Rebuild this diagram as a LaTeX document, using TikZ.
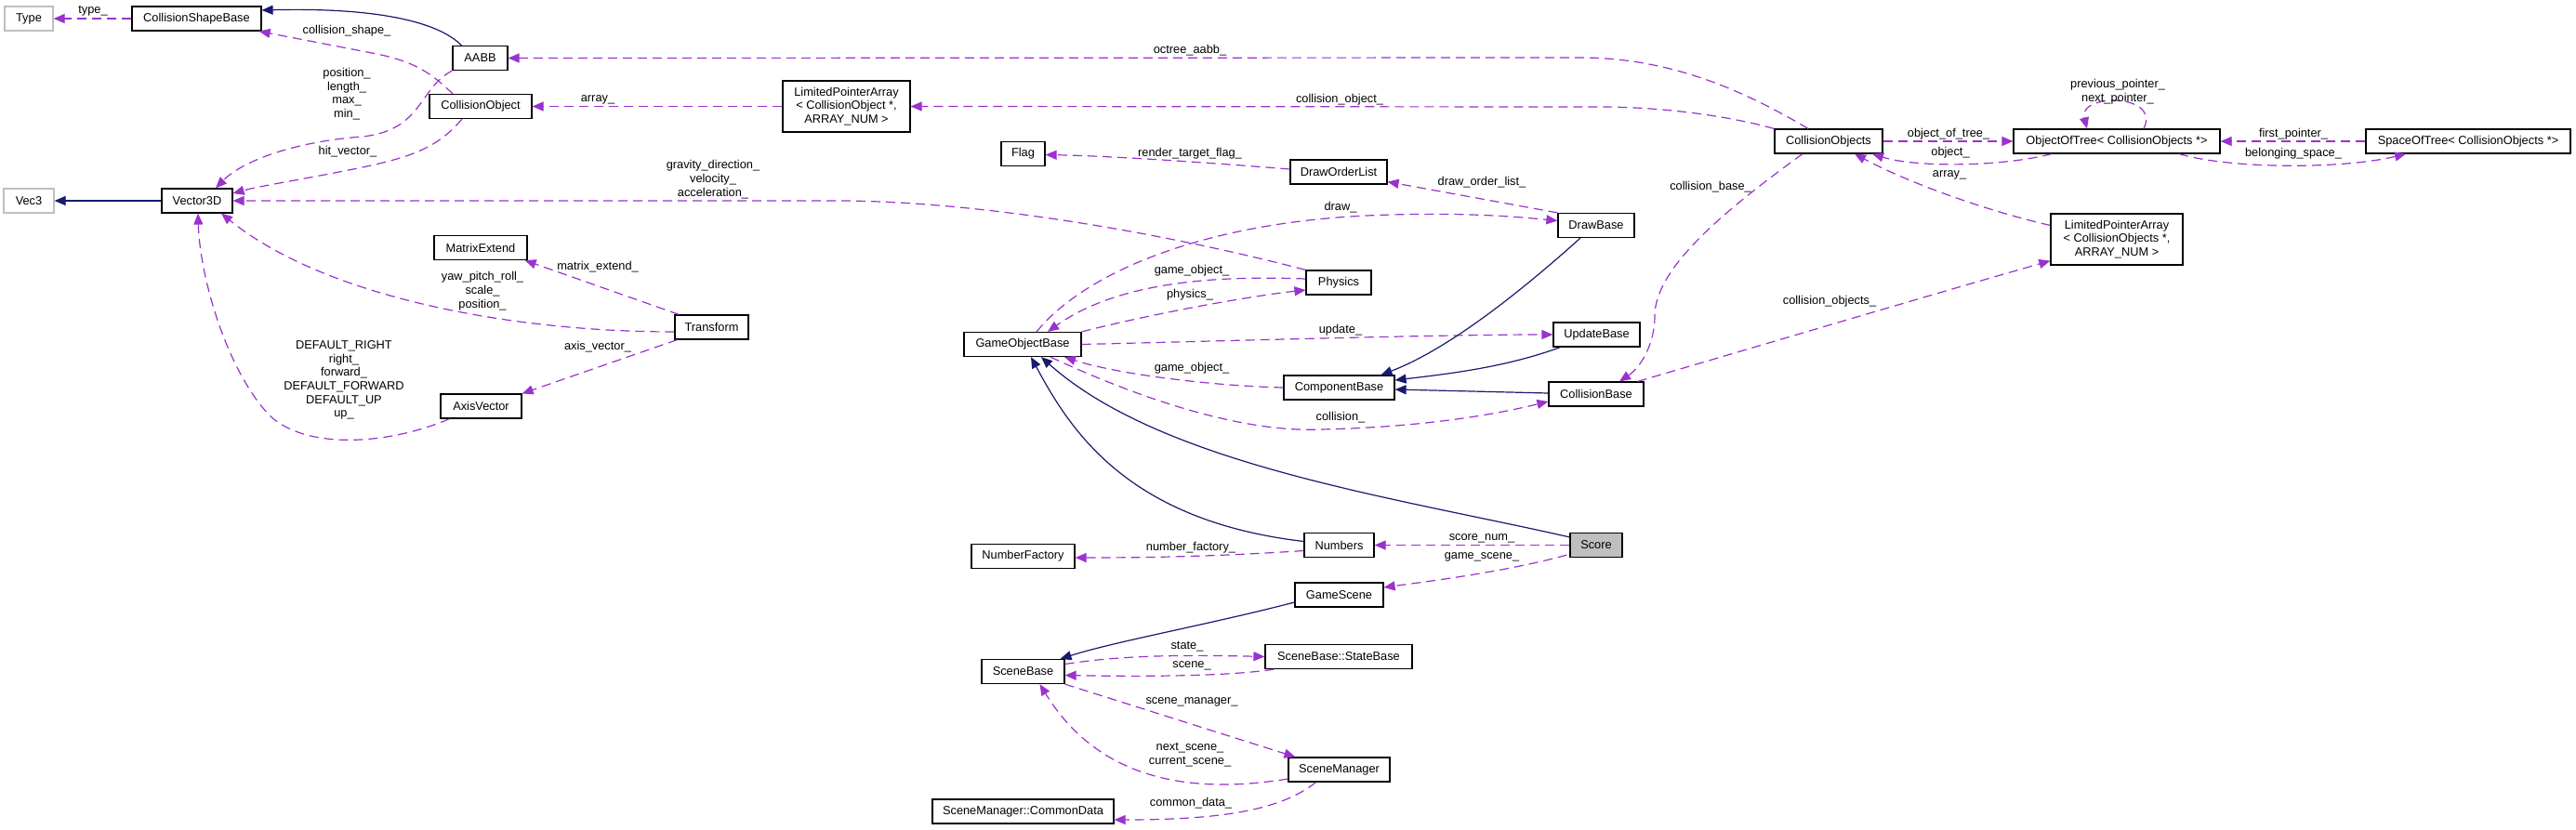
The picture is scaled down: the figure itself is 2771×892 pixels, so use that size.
\documentclass[tikz,border=0pt]{standalone}
\usepackage{fontspec}
\setmainfont{Liberation Sans}
\usetikzlibrary{arrows.meta,calc}
\definecolor{purp}{HTML}{9A32CD}
\definecolor{navyb}{HTML}{191970}
\definecolor{grayb}{HTML}{BFBFBF}
\begin{document}
\begin{tikzpicture}[x=1pt,y=-1pt,
 every node/.style={font=\fontsize{12.8}{14.7}\selectfont},
 cls/.style={draw=black, line width=1.2pt, fill=white, minimum height=26pt, inner sep=0pt, align=center},
 ext/.style={cls, draw=grayb},
 lbl/.style={inner sep=0pt, align=center},
 use/.style={draw=purp, line width=1.2pt, dash pattern=on 10pt off 6pt, -{Triangle[length=12pt,width=10pt]}},
 inh/.style={draw=navyb, line width=1.2pt, -{Triangle[length=12pt,width=10pt]}}]
\fill[white] (0,0) rectangle (2771,892);
\useasboundingbox (0,0) rectangle (2771,892);

% nodes
\node[ext, minimum width=52pt] (type) at (31,20) {Type};
\node[cls, minimum width=139pt] (csb) at (211.5,20) {CollisionShapeBase};
\node[cls, minimum width=59pt] (aabb) at (516.5,62.5) {AABB};
\node[cls, minimum width=110pt] (cobj) at (517,114.5) {CollisionObject};
\node[ext, minimum width=54pt] (vec3) at (31,216) {Vec3};
\node[cls, minimum width=76pt] (v3d) at (212,216) {Vector3D};
\node[cls, minimum width=100pt] (mext) at (517,266.5) {MatrixExtend};
\node[cls, minimum width=87pt] (axis) at (517.5,437) {AxisVector};
\node[cls, minimum width=137pt, minimum height=55pt] (lpa1) at (910.5,114.5) {LimitedPointerArray\\< CollisionObject *,\\ ARRAY\_NUM >};
\node[cls, minimum width=47pt] (flag) at (1100.5,165.5) {Flag};
\node[cls, minimum width=79pt] (trans) at (765.5,352) {Transform};
\node[cls, minimum width=126pt] (gob) at (1100,370.5) {GameObjectBase};
\node[cls, minimum width=104pt] (dol) at (1440,185) {DrawOrderList};
\node[cls, minimum width=82pt] (drawb) at (1717,242.5) {DrawBase};
\node[cls, minimum width=70pt] (phys) at (1440,304) {Physics};
\node[cls, minimum width=93pt] (updb) at (1717.5,360) {UpdateBase};
\node[cls, minimum width=119pt] (compb) at (1440.5,417) {ComponentBase};
\node[cls, minimum width=102pt] (collb) at (1717,424) {CollisionBase};
\node[cls, minimum width=116pt] (cobjs) at (1967,152) {CollisionObjects};
\node[cls, minimum width=222pt] (oot) at (2277,152) {ObjectOfTree< CollisionObjects *>};
\node[cls, minimum width=220pt] (sot) at (2655,152) {SpaceOfTree< CollisionObjects *>};
\node[cls, minimum width=142pt, minimum height=55pt] (lpa2) at (2277,257.5) {LimitedPointerArray\\< CollisionObjects *,\\ ARRAY\_NUM >};
\node[cls, minimum width=75pt] (num) at (1440.5,586.5) {Numbers};
\node[cls, minimum width=56pt, fill=grayb] (score) at (1717,586.5) {Score};
\node[cls, minimum width=111pt] (nfac) at (1100.5,598.5) {NumberFactory};
\node[cls, minimum width=95pt] (gscene) at (1440.5,640) {GameScene};
\node[cls, minimum width=89pt] (sbase) at (1100.5,722.5) {SceneBase};
\node[cls, minimum width=158pt] (sstate) at (1440,706.5) {SceneBase::StateBase};
\node[cls, minimum width=109pt] (smgr) at (1440.5,828) {SceneManager};
\node[cls, minimum width=195pt] (cdata) at (1100.5,873) {SceneManager::CommonData};

% edges
\draw[use] (csb.west) -- (type.east);
\node[lbl] (l1) at (100,12) {type\_};

\draw[use] ($(cobj.north)+(-30,0)$) .. controls (465,80) and (448,66) .. (400,57) -- ($(csb.south east)+(-3,0)$);
\node[lbl] (l2) at (373,33) {collision\_shape\_};

\draw[inh] ($(aabb.north)+(-20,0)$) .. controls (470,22) and (400,8) .. ($(csb.east)+(0,-9)$);

\draw[use] (aabb.south west) .. controls (450,95) and (455,140) .. (390,147) .. controls (320,152) and (262,172) .. ($(v3d.north)+(20,0)$);
\node[lbl] (l4) at (373,101) {position\_\\length\_\\max\_\\min\_};

\draw[use] ($(cobj.south)+(-20,0)$) .. controls (470,160) and (440,170) .. (380,182) .. controls (320,194) and (280,200) .. ($(v3d.east)+(0,-8)$);
\node[lbl] (l5) at (374,163) {hit\_vector\_};

\draw[use] ($(cobjs.north)+(-22,0)$) .. controls (1880,100) and (1800,62) .. (1700,62) -- (aabb.east);
\node[lbl] (l6) at (1280,54) {octree\_aabb\_};

\draw[use] (cobjs.north west) .. controls (1860,125) and (1790,115) .. (1720,115) -- (lpa1.east);
\node[lbl] (l7) at (1441,107) {collision\_object\_};

\draw[use] (lpa1.west) -- (cobj.east);
\node[lbl] (l8) at (643,107) {array\_};

\draw[use] (phys.north west) .. controls (1250,250) and (1050,216) .. (900,216) -- (v3d.east);
\node[lbl] (l9) at (767,193) {gravity\_direction\_\\velocity\_\\acceleration\_};

\draw[use] ($(gob.north)+(15,0)$) .. controls (1170,290) and (1300,240) .. (1470,232) .. controls (1560,228) and (1620,232) .. ($(drawb.west)+(0,-5)$);
\node[lbl] (l10) at (1442,223) {draw\_};

\draw[use] ($(phys.west)+(0,-4)$) .. controls (1300,296) and (1200,305) .. ($(gob.north)+(27,0)$);
\node[lbl] (l11) at (1282,291) {game\_object\_};

\draw[use] (gob.north east) .. controls (1250,335) and (1350,318) .. ($(phys.west)+(0,8)$);
\node[lbl] (l12) at (1280,317) {physics\_};

\draw[use] (gob.east) .. controls (1350,366) and (1550,360) .. (updb.west);
\node[lbl] (l13) at (1442,355) {update\_};

\draw[use] (compb.west) .. controls (1300,415) and (1200,402) .. ($(gob.south)+(45,0)$);
\node[lbl] (l14) at (1282,396) {game\_object\_};

\draw[use] ($(gob.south)+(30,0)$) .. controls (1250,440) and (1350,465) .. (1420,462) .. controls (1520,460) and (1600,448) .. ($(collb.west)+(0,8)$);
\node[lbl] (l15) at (1442,449) {collision\_};

\draw[inh] ($(num.west)+(0,-4)$) .. controls (1210,560) and (1150,460) .. ($(gob.south)+(9,0)$);
\draw[inh] ($(score.north west)+(0,5)$) .. controls (1500,535) and (1250,500) .. ($(gob.south)+(20,0)$);
\draw[inh] ($(drawb.south)+(-17,0)$) .. controls (1640,310) and (1560,375) .. ($(compb.north)+(45,0)$);
\draw[inh] ($(updb.south west)+(8,0)$) .. controls (1620,395) and (1560,402) .. ($(compb.east)+(0,-8)$);
\draw[inh] ($(collb.west)+(0,-1)$) -- ($(compb.east)+(0,2)$);

\draw[use] (drawb.north west) -- ($(dol.south east)+(0,-3)$);
\node[lbl] (l21) at (1594,196) {draw\_order\_list\_};

\draw[use] ($(dol.west)+(0,-3)$) .. controls (1300,175) and (1200,168) .. ($(flag.east)+(0,1)$);
\node[lbl] (l22) at (1280,165) {render\_target\_flag\_};

\draw[use] ($(cobjs.south)+(-28,0)$) .. controls (1850,230) and (1780,290) .. (1780,340) .. controls (1780,370) and (1765,395) .. ($(collb.north)+(25,0)$);
\node[lbl] (l23) at (1840,201) {collision\_base\_};

\draw[use] ($(collb.north east)+(-7,0)$) .. controls (1900,370) and (2050,325) .. ($(lpa2.south west)+(0,-5)$);
\node[lbl] (l24) at (1968,324) {collision\_objects\_};

\draw[use] ($(lpa2.west)+(0,-15)$) .. controls (2130,225) and (2050,195) .. ($(cobjs.south)+(28,0)$);
\node[lbl] (l25) at (2097,188) {array\_};

\draw[use] (cobjs.east) -- (oot.west);
\node[lbl] (l26) at (2096,144) {object\_of\_tree\_};

\draw[use] ($(oot.south)+(-70,0)$) .. controls (2150,180) and (2060,180) .. ($(cobjs.south)+(47,0)$);
\node[lbl] (l27) at (2098,164) {object\_};

\draw[use] ($(oot.north)+(29,0)$) .. controls (2325,100) and (2235,100) .. ($(oot.north)+(-32,0)$);
\node[lbl] (l28) at (2278,99) {previous\_pointer\_\\next\_pointer\_};

\draw[use] (sot.west) -- (oot.east);
\node[lbl] (l29) at (2467,144) {first\_pointer\_};

\draw[use] ($(oot.south)+(67,0)$) .. controls (2400,182) and (2520,182) .. ($(sot.south)+(-67,0)$);
\node[lbl] (l30) at (2467,165) {belonging\_space\_};

\draw[use] ($(trans.west)+(0,5)$) .. controls (550,357) and (350,320) .. ($(v3d.south)+(26,0)$);
\node[lbl] (l31) at (519,313) {yaw\_pitch\_roll\_\\scale\_\\position\_};

\draw[use] ($(trans.north west)+(5,0)$) -- ($(mext.south east)+(-3,0)$);
\node[lbl] (l32) at (643,287) {matrix\_extend\_};

\draw[use] ($(trans.south west)+(3,0)$) -- (axis.north east);
\node[lbl] (l33) at (643,373) {axis\_vector\_};

\draw[use] ($(axis.south west)+(10,0)$) .. controls (420,478) and (330,485) .. (290,447) .. controls (245,400) and (215,300) .. ($(v3d.south)+(1,0)$);
\node[lbl] (l34) at (370,409) {DEFAULT\_RIGHT\\right\_\\forward\_\\DEFAULT\_FORWARD\\DEFAULT\_UP\\up\_};

\draw[inh] (v3d.west) -- (vec3.east);

\draw[use] (score.west) -- (num.east);
\node[lbl] (l36) at (1594,579) {score\_num\_};

\draw[use] ($(score.south west)+(-3,-3)$) .. controls (1620,615) and (1540,625) .. ($(gscene.east)+(0,-8)$);
\node[lbl] (l37) at (1594,599) {game\_scene\_};

\draw[use] ($(num.west)+(0,6)$) .. controls (1320,598) and (1250,600) .. ($(nfac.east)+(0,1.5)$);
\node[lbl] (l38) at (1281,589) {number\_factory\_};

\draw[inh] ($(gscene.west)+(0,8)$) .. controls (1300,672) and (1200,690) .. ($(sbase.north)+(40,0)$);

\draw[use] ($(sbase.east)+(0,-8)$) .. controls (1200,706) and (1260,704) .. (sstate.west);
\node[lbl] (l40) at (1277,696) {state\_};

\draw[use] ($(sstate.south west)+(10,0)$) .. controls (1320,728) and (1220,728) .. ($(sbase.east)+(0,4)$);
\node[lbl] (l41) at (1282,716) {scene\_};

\draw[use] (sbase.south east) -- ($(smgr.north west)+(8,0)$);
\node[lbl] (l42) at (1282,755) {scene\_manager\_};

\draw[use] ($(smgr.west)+(0,10)$) .. controls (1250,860) and (1170,820) .. ($(sbase.south)+(18,0)$);
\node[lbl] (l43) at (1280,812) {next\_scene\_\\current\_scene\_};

\draw[use] ($(smgr.south)+(-25,0)$) .. controls (1380,870) and (1320,882) .. ($(cdata.east)+(0,9)$);
\node[lbl] (l44) at (1281,864) {common\_data\_};
\end{tikzpicture}
\end{document}
